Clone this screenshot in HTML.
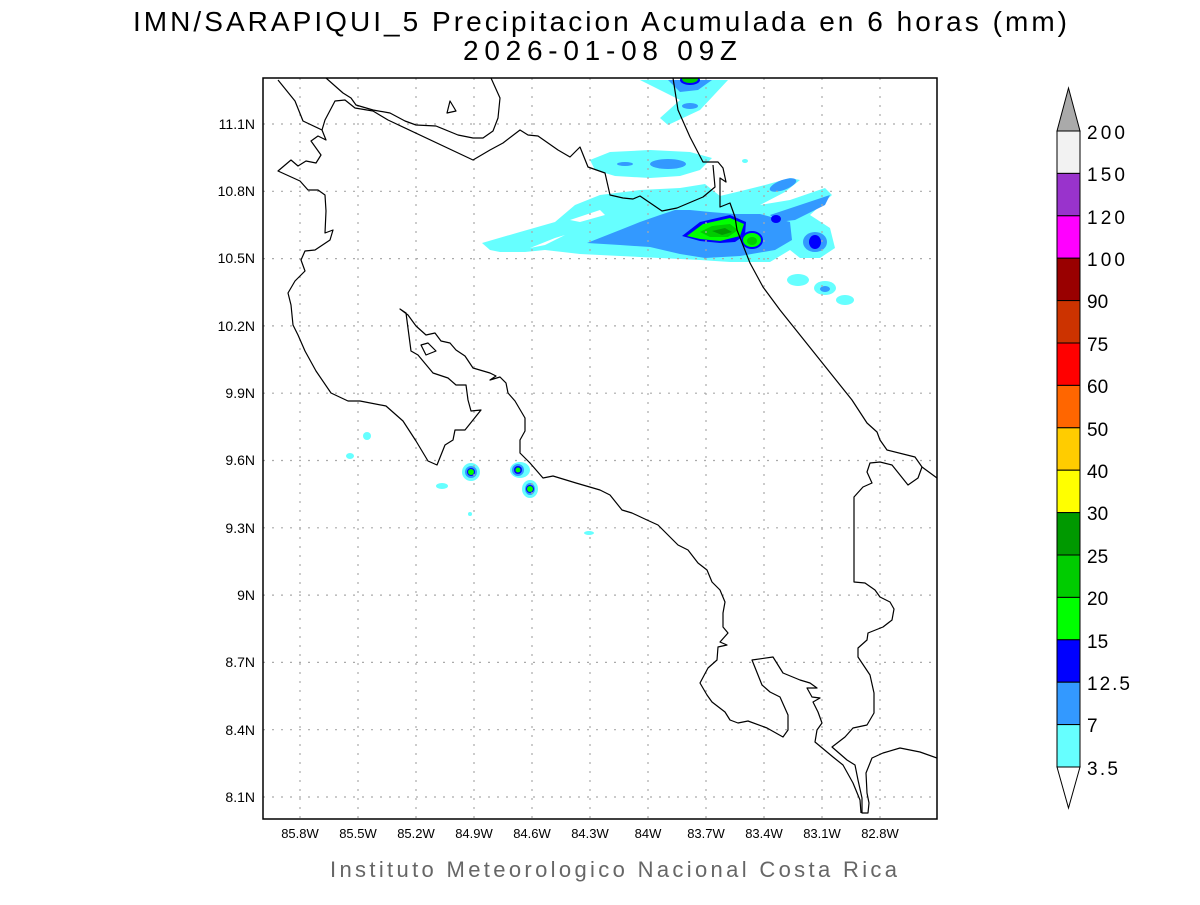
<!DOCTYPE html>
<html><head><meta charset="utf-8"><style>
html,body{margin:0;padding:0;background:#fff;}
svg text{font-family:"Liberation Sans","DejaVu Sans",sans-serif;}
</style></head><body>
<svg width="1200" height="900" viewBox="0 0 1200 900" xmlns="http://www.w3.org/2000/svg">
<rect width="1200" height="900" fill="#fff"/>
<text x="133" y="31" font-size="28" fill="#000" textLength="934" lengthAdjust="spacing">IMN/SARAPIQUI_5 Precipitacion Acumulada en 6 horas (mm)</text>
<text x="463" y="60" font-size="28" fill="#000" textLength="274" lengthAdjust="spacing">2026-01-08 09Z</text>
<defs><clipPath id="c"><rect x="263" y="78" width="674" height="741"/></clipPath></defs>
<g clip-path="url(#c)">
<g stroke="none">
<path fill="#66ffff" d="M640,80 L728,80 L700,110 L668,125 L660,118 L680,100 Z"/>
<path fill="#3399ff" d="M668,80 L712,80 L698,90 L680,92 Z"/>
<ellipse cx="690" cy="80" rx="10" ry="5" fill="#0000ff"/>
<ellipse cx="690" cy="79" rx="8" ry="4" fill="#00cc00"/>
<ellipse cx="690" cy="106" rx="8" ry="3" fill="#3399ff"/>
<path fill="#66ffff" d="M590,160 L610,152 L650,150 L690,152 L712,158 L700,170 L680,176 L650,178 L615,176 L595,170 Z"/>
<ellipse cx="668" cy="164" rx="18" ry="5" fill="#3399ff"/>
<ellipse cx="625" cy="164" rx="8" ry="2" fill="#3399ff"/>
<path fill="#66ffff" d="M482,243 L520,232 L555,222 L575,205 L600,195 L640,190 L680,188 L705,184 L720,196 L745,190 L765,185 L790,178 L800,180 L785,192 L760,205 L790,200 L825,188 L832,195 L810,215 L830,228 L835,248 L820,258 L800,258 L790,250 L770,262 L730,262 L700,260 L660,258 L620,256 L580,254 L545,250 L525,252 L500,252 L490,250 Z"/>
<path fill="#ffffff" d="M570,220 L600,210 L605,215 L580,222 Z"/>
<path fill="#ffffff" d="M530,248 L555,238 L565,235 L545,245 Z"/>
<path fill="#ffffff" d="M670,225 L680,220 L676,228 Z"/>
<path fill="#3399ff" d="M587,243 L620,230 L640,222 L660,215 L675,210 L690,210 L710,212 L735,214 L760,214 L790,222 L792,240 L775,250 L740,256 L705,258 L680,254 L650,247 L620,245 Z"/>
<path fill="#3399ff" d="M770,215 L800,205 L830,195 L825,205 L795,220 L778,222 Z"/>
<ellipse cx="783" cy="185" rx="14" ry="5" fill="#3399ff" transform="rotate(-20 783 185)"/>
<ellipse cx="815" cy="242" rx="12" ry="10" fill="#3399ff"/>
<ellipse cx="815" cy="242" rx="6" ry="7" fill="#0000ff"/>
<ellipse cx="776" cy="219" rx="5" ry="4" fill="#0000ff"/>
<path fill="#0000ff" d="M682,236 L700,222 L730,215 L746,222 L745,235 L735,242 L720,243 L700,241 Z"/>
<path fill="#00ff00" d="M687,236 L703,224 L730,218 L744,224 L740,236 L720,241 L700,239 Z"/>
<path fill="#00cc00" d="M700,232 L712,226 L730,224 L738,230 L728,237 L710,237 Z"/>
<path fill="#009900" d="M712,231 L725,228 L732,232 L722,235 Z"/>
<ellipse cx="752" cy="240" rx="11" ry="9" fill="#0000ff"/>
<ellipse cx="752" cy="240" rx="9" ry="7" fill="#00ff00"/>
<ellipse cx="752" cy="241" rx="5" ry="4" fill="#00cc00"/>
<ellipse cx="798" cy="280" rx="11" ry="6" fill="#66ffff"/>
<ellipse cx="825" cy="288" rx="11" ry="7" fill="#66ffff"/>
<ellipse cx="825" cy="289" rx="5" ry="3" fill="#3399ff"/>
<ellipse cx="845" cy="300" rx="9" ry="5" fill="#66ffff"/>
<ellipse cx="745" cy="161" rx="3" ry="2" fill="#66ffff"/>
<ellipse cx="471" cy="472" rx="9" ry="9" fill="#66ffff"/>
<ellipse cx="471" cy="472" rx="6" ry="6" fill="#3399ff"/>
<ellipse cx="471" cy="472" rx="4" ry="4" fill="#0000ff"/>
<ellipse cx="471" cy="472" rx="3" ry="3" fill="#00ff00"/>
<ellipse cx="520" cy="470" rx="10" ry="8" fill="#66ffff"/>
<ellipse cx="518" cy="470" rx="6" ry="6" fill="#3399ff"/>
<ellipse cx="518" cy="470" rx="4" ry="4" fill="#0000ff"/>
<ellipse cx="518" cy="470" rx="2.5" ry="2.5" fill="#00ff00"/>
<ellipse cx="530" cy="489" rx="8" ry="9" fill="#66ffff"/>
<ellipse cx="530" cy="489" rx="5" ry="6" fill="#3399ff"/>
<ellipse cx="530" cy="489" rx="4" ry="4" fill="#0000ff"/>
<ellipse cx="530" cy="489" rx="3" ry="3" fill="#00ff00"/>
<ellipse cx="367" cy="436" rx="4" ry="4" fill="#66ffff"/>
<ellipse cx="350" cy="456" rx="4" ry="3" fill="#66ffff"/>
<ellipse cx="442" cy="486" rx="6" ry="3" fill="#66ffff"/>
<ellipse cx="589" cy="533" rx="5" ry="2" fill="#66ffff"/>
<ellipse cx="470" cy="514" rx="2" ry="2" fill="#66ffff"/>
</g>
<g stroke="#aaa" stroke-width="1.2" stroke-dasharray="2,7" fill="none">
<path d="M300,78V819M358,78V819M416,78V819M474,78V819M532,78V819M590,78V819M648,78V819M706,78V819M764,78V819M822,78V819M880,78V819"/>
<path d="M263,124H937M263,191.3H937M263,258.6H937M263,325.9H937M263,393.2H937M263,460.5H937M263,527.8H937M263,595.1H937M263,662.4H937M263,729.7H937M263,797H937"/>
</g>
<g stroke="#000" stroke-width="1.2" fill="none" stroke-linejoin="round">
<polyline points="278,80 295,101 303,121 322,130 326,140 318,136 311,141 321,155 316,163 306,161 298,166 291,160 278,171 300,181 308,190 318,190 325,195 326,211 325,233 333,230 330,240 315,250 305,251 301,260 305,271 295,281 288,293 291,305 293,325 298,335 305,351 316,371 331,393 348,401 360,401 386,406 403,421 416,441 428,461 437,465 445,445 453,440 455,430 465,430 481,410 471,411 468,400 466,385 456,385 448,378 433,373 418,355 411,351 406,313 400,309 408,315 416,326 426,335 435,333 441,341 450,343 456,350 465,356 473,368 490,373 496,376 490,380 500,377 506,383 508,393 515,401 525,418 525,431 520,440 520,453 530,463 543,478 553,476 576,483 600,490 610,495 622,510 632,513 647,520 658,525 670,537 678,545 688,550 698,563 707,570 712,582 720,590 725,602 723,613 723,627 728,633 720,642 727,645 718,647 717,660 708,668 700,683 707,695 712,702 725,712 730,720 738,723 748,721 767,728 783,737 788,730 788,715 780,697 770,692 762,685 752,660 773,657 783,673 800,680 810,683 817,688 807,688 812,697 820,698 813,702 818,712 822,723 817,730 815,742 833,757 843,765 853,783 860,800 861,813"/>
<polygon points="421,345 428,343 436,351 426,355"/>
<polygon points="450,101 456,111 447,113"/>
<polyline points="326,78 343,93 351,98 356,105 373,110 390,113 405,121 416,125 436,126 458,135 473,138 483,138 493,131 498,118 500,98 491,78"/>
<polyline points="322,130 325,120 335,101 345,100 355,108 373,111 388,120 473,160 490,150 503,143 520,130 528,135 538,136 558,150 570,157 580,147 588,167 605,173 610,195 623,198 633,199 640,196 662,211 677,208 703,197 715,187 713,165"/>
<polyline points="673,78 678,110 690,137 703,162 718,162 723,168 726,182 720,178 720,207 730,203 735,217 737,230 750,263 763,287 780,310 800,335 820,360 840,385 852,400 867,423 877,432 880,440 887,450 915,457 922,467 937,478"/>
<polyline points="922,467 918,478 908,485 892,465 880,462 870,463 867,472 872,483 863,487 854,497 854,582 865,583 875,590 880,597 890,602 894,609 892,620 883,627 868,633 867,640 858,648 858,657 870,675 874,693 874,713 867,725 853,728 845,737 832,747 847,760 855,765 858,780 862,798 862,813 868,813 869,803 867,793 866,773 872,758 883,753 900,748 920,752 937,758"/>
</g>
</g>
<rect x="263" y="78" width="674" height="741" fill="none" stroke="#000" stroke-width="1.5"/>
<g font-size="14" fill="#000" text-anchor="end">
<text x="255" y="129">11.1N</text><text x="255" y="196">10.8N</text><text x="255" y="263">10.5N</text>
<text x="255" y="331">10.2N</text><text x="255" y="398">9.9N</text><text x="255" y="465">9.6N</text>
<text x="255" y="533">9.3N</text><text x="255" y="600">9N</text><text x="255" y="667">8.7N</text>
<text x="255" y="735">8.4N</text><text x="255" y="802">8.1N</text>
</g>
<g font-size="13" fill="#000" text-anchor="middle">
<text x="300" y="838">85.8W</text><text x="358" y="838">85.5W</text><text x="416" y="838">85.2W</text>
<text x="474" y="838">84.9W</text><text x="532" y="838">84.6W</text><text x="590" y="838">84.3W</text>
<text x="648" y="838">84W</text><text x="706" y="838">83.7W</text><text x="764" y="838">83.4W</text>
<text x="822" y="838">83.1W</text><text x="880" y="838">82.8W</text>
</g>
<text x="330" y="877" font-size="22" fill="#666" textLength="567" lengthAdjust="spacing">Instituto Meteorologico Nacional Costa Rica</text>
<g stroke="#000" stroke-width="1">
<polygon points="1057,131 1080,131 1068.5,88" fill="#aaaaaa"/>
<rect x="1057" y="131" width="23" height="42.4" fill="#f2f2f2"/>
<rect x="1057" y="173.4" width="23" height="42.4" fill="#9933cc"/>
<rect x="1057" y="215.8" width="23" height="42.4" fill="#ff00ff"/>
<rect x="1057" y="258.2" width="23" height="42.4" fill="#990000"/>
<rect x="1057" y="300.6" width="23" height="42.4" fill="#cc3300"/>
<rect x="1057" y="343" width="23" height="42.4" fill="#ff0000"/>
<rect x="1057" y="385.4" width="23" height="42.4" fill="#ff6600"/>
<rect x="1057" y="427.8" width="23" height="42.4" fill="#ffcc00"/>
<rect x="1057" y="470.2" width="23" height="42.4" fill="#ffff00"/>
<rect x="1057" y="512.6" width="23" height="42.4" fill="#009900"/>
<rect x="1057" y="555" width="23" height="42.4" fill="#00cc00"/>
<rect x="1057" y="597.4" width="23" height="42.4" fill="#00ff00"/>
<rect x="1057" y="639.8" width="23" height="42.4" fill="#0000ff"/>
<rect x="1057" y="682.2" width="23" height="42.4" fill="#3399ff"/>
<rect x="1057" y="724.6" width="23" height="42.4" fill="#66ffff"/>
<polygon points="1057,767 1080,767 1068.5,808" fill="#fff"/>
</g>
<g font-size="19" fill="#000">
<text x="1087" y="139" textLength="38">200</text><text x="1087" y="181" textLength="38">150</text><text x="1087" y="224" textLength="38">120</text>
<text x="1087" y="266" textLength="38">100</text><text x="1087" y="308">90</text><text x="1087" y="351">75</text>
<text x="1087" y="393">60</text><text x="1087" y="436">50</text><text x="1087" y="478">40</text>
<text x="1087" y="520">30</text><text x="1087" y="563">25</text><text x="1087" y="605">20</text>
<text x="1087" y="648">15</text><text x="1087" y="690" textLength="43">12.5</text><text x="1087" y="732">7</text>
<text x="1087" y="775" textLength="31">3.5</text>
</g>
</svg>
</body></html>
